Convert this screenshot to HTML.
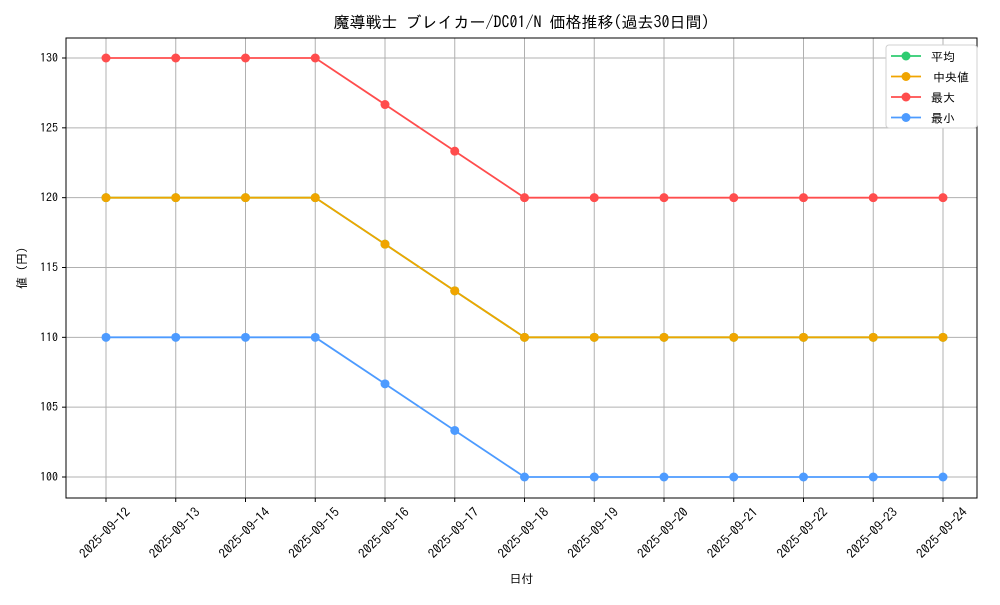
<!DOCTYPE html>
<html><head><meta charset="utf-8"><style>
body{margin:0;background:#fff}
svg text{font-family:"IPAGothic","Liberation Sans","Noto Sans CJK JP",sans-serif;fill:#000}
</style></head><body>
<svg id="c" width="1000" height="600" xmlns="http://www.w3.org/2000/svg"></svg>
<script>
const categories=["2025-09-12","2025-09-13","2025-09-14","2025-09-15","2025-09-16","2025-09-17","2025-09-18","2025-09-19","2025-09-20","2025-09-21","2025-09-22","2025-09-23","2025-09-24"];
const meanValues=[120,120,120,120,116.67,113.33,110,110,110,110,110,110,110];
const medianValues=[120,120,120,120,116.67,113.33,110,110,110,110,110,110,110];
const maxValues=[130,130,130,130,126.67,123.33,120,120,120,120,120,120,120];
const minValues=[110,110,110,110,106.67,103.33,100,100,100,100,100,100,100];
const yTicks=[100,105,110,115,120,125,130];
const seriesNames=["平均","中央値","最大","最小"];

const svg=document.getElementById('c');
const NS="http://www.w3.org/2000/svg";
const L=66,R=977,T=38,B=498;
const x=i=>106+i*(943-106)/(categories.length-1);
const y=v=>477+(v-100)*(58-477)/30;
function mk(t,a,p){const e=document.createElementNS(NS,t);for(const k in a)e.setAttribute(k,a[k]);(p||svg).appendChild(e);return e;}

const grid=mk('g',{});


categories.forEach((c,i)=>{
  const l=mk('line',{x1:x(i),x2:x(i),y1:T,y2:B,stroke:'#b0b0b0','stroke-width':1},grid);
  
  
  mk('line',{x1:x(i),x2:x(i),y1:B,y2:B+4,stroke:'#000'});
  const t=mk('text',{x:0,y:0,'font-size':13,'text-anchor':'middle',transform:`translate(${x(i)+2},${B+38}) rotate(-45)`});
  t.textContent=c;
  
  
});
yTicks.forEach(v=>{
  const l=mk('line',{x1:L,x2:R,y1:y(v),y2:y(v),stroke:'#b0b0b0','stroke-width':1},grid);
  
  
  mk('line',{x1:L-4,x2:L,y1:y(v),y2:y(v),stroke:'#000'});
  const t=mk('text',{x:L-8,y:y(v)+4,'font-size':12,'text-anchor':'end'});
  t.textContent=v;
  
  
});
const frame=mk('rect',{x:L,y:T,width:R-L,height:B-T,fill:'none',stroke:'#000','stroke-width':1});



const series=[[meanValues,'#2ecc71','series-mean'],[medianValues,'#f0a500','series-median'],[maxValues,'#ff4d4d','series-max'],[minValues,'#4d9bff','series-min']];
series.forEach(([vals,col,name])=>{
  const g=mk('g',{});
  
  
  const p=mk('polyline',{points:vals.map((v,i)=>x(i)+','+y(v)).join(' '),fill:'none',stroke:col,'stroke-width':1.8},g);
  
  
  vals.forEach((v,i)=>{
    const c=mk('circle',{cx:x(i),cy:y(v),r:4.5,fill:col},g);
    
    
  });
});

const title=mk('text',{x:(L+R)/2,y:28,'font-size':16,'text-anchor':'middle'});
title.textContent='魔導戦士 ブレイカー/DC01/N 価格推移(過去30日間)';


const xt=mk('text',{x:(L+R)/2,y:583,'font-size':12,'text-anchor':'middle'});
xt.textContent='日付';


const yt=mk('text',{x:0,y:0,'font-size':12,'text-anchor':'middle',transform:`translate(26,${(T+B)/2}) rotate(-90)`});
yt.textContent='値 (円)';



const lg=mk('g',{});


mk('rect',{x:886,y:45,width:91,height:83,rx:3,fill:'#fff',stroke:'#d0d0d0'},lg);
series.forEach(([v,col],i)=>{
  const yy=56+i*20.5;
  const e=mk('g',{},lg);
  
  
  mk('line',{x1:891,x2:921,y1:yy,y2:yy,stroke:col,'stroke-width':1.8},e);
  mk('circle',{cx:906,cy:yy,r:4.5,fill:col},e);
  const t=mk('text',{x:i==1?933:931,y:yy+5,'font-size':12},e);
  t.textContent=seriesNames[i];
});
</script>
</body></html>
